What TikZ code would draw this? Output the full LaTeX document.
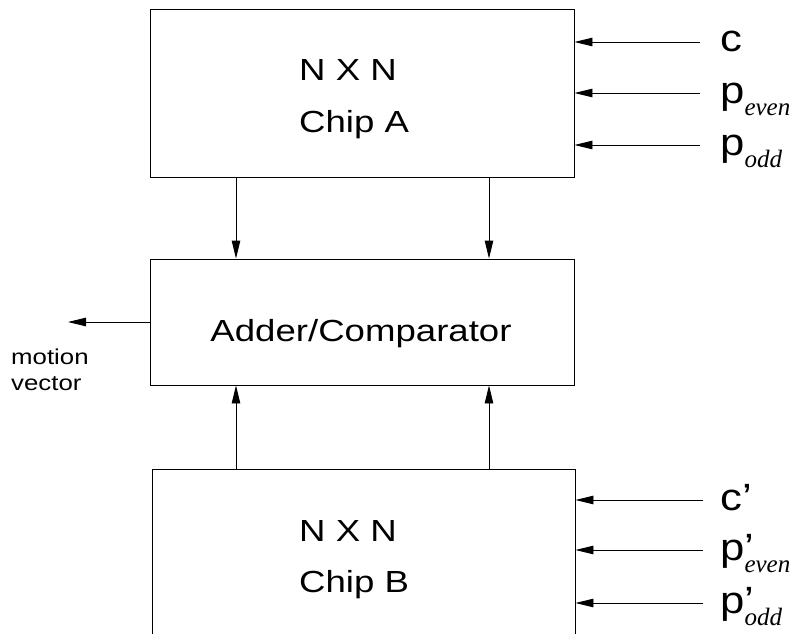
\documentclass[tikz,border=0pt]{standalone}
\usepackage{fontspec}
\setmainfont{Liberation Sans}
\newfontfamily\wsans[FakeStretch=1.2]{Liberation Sans}
\newfontfamily\lsans[FakeStretch=1.15]{Liberation Sans}
\newfontfamily\subserif{Liberation Serif}
\usetikzlibrary{arrows.meta}
\newcommand{\sbs}[1]{\raisebox{-12pt}{\subserif\itshape\fontsize{25}{30}\selectfont #1}}
\begin{document}
\begin{tikzpicture}[x=1pt,y=-1pt,
  box/.style={draw, line width=0.9pt, inner sep=0pt},
  conn/.style={line width=0.9pt, -{Triangle[length=18pt,width=8.5pt]}},
  txt/.style={anchor=base west, inner sep=0pt, font=\wsans\fontsize{30.5}{36}\selectfont},
  lbl/.style={anchor=base west, inner sep=0pt, font=\lsans\fontsize{38}{44}\selectfont},
  small/.style={anchor=base west, inner sep=0pt, font=\wsans\fontsize{21.5}{25}\selectfont},
]
\useasboundingbox (0,0) rectangle (795,634);
\clip (0,0) rectangle (795,634);
% boxes
\node[box, minimum width=424pt, minimum height=168pt] (A) at (362,93) {};
\node[box, minimum width=424pt, minimum height=126pt] (M) at (362,322) {};
\node[box, minimum width=423pt, minimum height=250pt] (B) at (363.5,594) {};
% box texts
\node[txt] (a1) at (299,81) {N X N};
\node[txt] (a2) at (299,132) {Chip A};
\node[txt, anchor=base] (m1) at (361,341) {Adder/Comparator};
\node[txt] (b1) at (299,541) {N X N};
\node[txt] (b2) at (299,592) {Chip B};
% vertical connectors
\coordinate (xl) at (236,0);
\coordinate (xr) at (489,0);
\draw[conn] (xl |- A.south) -- (xl |- M.north);
\draw[conn] (xr |- A.south) -- (xr |- M.north);
\draw[conn] (xl |- B.north) -- (xl |- M.south);
\draw[conn] (xr |- B.north) -- (xr |- M.south);
% motion vector
\coordinate (mv) at (68,322);
\draw[conn] (M.west) -- (mv);
\node[small] (mv1) at (11,364) {motion};
\node[small] (mv2) at (11,390) {vector};
% inputs chip A
\coordinate (i1) at (700,42);
\coordinate (i2) at (700,93);
\coordinate (i3) at (700,145);
\draw[conn] (i1) -- (i1 -| A.east);
\draw[conn] (i2) -- (i2 -| A.east);
\draw[conn] (i3) -- (i3 -| A.east);
\node[lbl] (l1) at (720,52) {c};
\node[lbl] (l2) at (720,103) {p\sbs{even}};
\node[lbl] (l3) at (720,155) {p\sbs{odd}};
% inputs chip B
\coordinate (j1) at (703,500);
\coordinate (j2) at (703,550);
\coordinate (j3) at (703,603);
\draw[conn] (j1) -- (j1 -| B.east);
\draw[conn] (j2) -- (j2 -| B.east);
\draw[conn] (j3) -- (j3 -| B.east);
\node[lbl] (k1) at (720,510) {c’};
\node[lbl] (k2) at (720,560) {p\rlap{’}\sbs{even}};
\node[lbl] (k3) at (720,613) {p\rlap{’}\sbs{odd}};
\end{tikzpicture}
\end{document}
